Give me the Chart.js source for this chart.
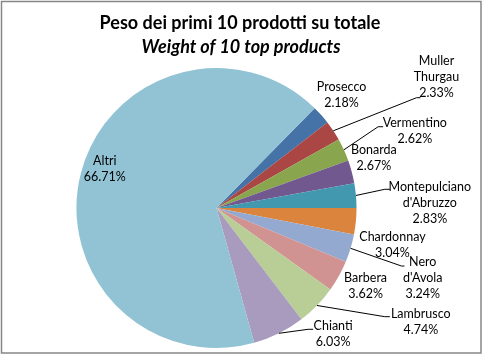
<!DOCTYPE html>
<html>
<head>
<meta charset="utf-8">
<script src="https://cdn.jsdelivr.net/npm/chart.js@4/dist/chart.umd.min.js"></script>
<style>
  html, body { margin: 0; padding: 0; background: #ffffff; }
  #wrap { width: 483px; height: 356px; }
</style>
</head>
<body>
<div id="wrap"><canvas id="c" width="483" height="356"></canvas></div>
<script>
// ---- data ----
const titleLines = ['Peso dei primi 10 prodotti su totale', 'Weight of 10 top products'];
const categories = ['Prosecco', 'Muller Thurgau', 'Vermentino', 'Bonarda', "Montepulciano d'Abruzzo",
                    'Chardonnay', "Nero d'Avola", 'Barbera', 'Lambrusco', 'Chianti', 'Altri'];
const values = [2.18, 2.33, 2.62, 2.67, 2.83, 3.04, 3.24, 3.62, 4.74, 6.03, 66.71];

// ---- styles / layout ----
const colors = ['#4572A7', '#AA4643', '#89A54E', '#71588F', '#4198AF', '#DB843D',
                '#93A9CF', '#D19392', '#B9CD96', '#A99BBD', '#92C3D5'];
// label centre offsets from each slice's outer mid point
const labelOffsets = [[20.3,-20.4],[103.2,-53.6],[71,-18.8],[22.1,-13.7],[73.9,7.2],
                      [36.6,23.4],[72.2,30],[26.7,10.2],[103.8,16.7],[54.2,0.9],[23.9,-4.3]];
// leader-line elbow offsets from label centre (null = no leader), and horizontal tail length
const leaderElbows = [null,[-20,20.5],[-36.7,-4.3],null,[-45,-13.4],
                      null,[-21.3,-12.3],null,[-36,-5.5],[-25,-4.9],null];
const leaderTail = [0,4,5,0,5,0,3,0,5,5,0];
const labelFont = '12.5px Lato';
const lineH = 16;

const labelsPlugin = {
  id: 'sliceLabels',
  beforeDraw(chart) {
    const ctx = chart.ctx;
    ctx.save();
    ctx.fillStyle = '#ffffff';
    ctx.fillRect(0, 0, chart.width, chart.height);
    ctx.restore();
  },
  afterDraw(chart) {
    const ctx = chart.ctx;
    ctx.save();
    // border
    ctx.strokeStyle = '#878787';
    ctx.lineWidth = 1.5;
    ctx.strokeRect(1.5, 1.5, 479.5, 351.5);
    // title
    ctx.fillStyle = '#000000';
    ctx.textAlign = 'center';
    ctx.textBaseline = 'middle';
    ctx.font = 'bold 18px Lato';
    ctx.fillText(titleLines[0], 240, 23);
    ctx.font = 'italic bold 18px Lato';
    ctx.fillText(titleLines[1], 241, 47);

    const meta = chart.getDatasetMeta(0);
    ctx.font = labelFont;
    meta.data.forEach((arc, i) => {
      const mid = (arc.startAngle + arc.endAngle) / 2;
      const ex = arc.x + arc.outerRadius * Math.cos(mid);
      const ey = arc.y + arc.outerRadius * Math.sin(mid);
      const lx = ex + labelOffsets[i][0];
      const ly = ey + labelOffsets[i][1];
      const lines = categories[i].split(' ').concat([values[i].toFixed(2) + '%']);
      if (leaderElbows[i]) {
        const bx = lx + leaderElbows[i][0];
        const by = ly + leaderElbows[i][1];
        ctx.strokeStyle = '#000000';
        ctx.lineWidth = 1;
        ctx.beginPath();
        ctx.moveTo(ex, ey);
        ctx.lineTo(bx, by);
        ctx.lineTo(bx + leaderTail[i], by);
        ctx.stroke();
      }
      ctx.fillStyle = '#000000';
      const top = ly - (lines.length - 1) * lineH / 2;
      lines.forEach((t, k) => ctx.fillText(t, lx, top + k * lineH));
    });
    ctx.restore();
  }
};

new Chart(document.getElementById('c'), {
  type: 'pie',
  data: {
    labels: categories,
    datasets: [{
      data: values,
      backgroundColor: colors,
      borderWidth: 0,
      hoverOffset: 0,
      offset: 0
    }]
  },
  options: {
    responsive: false,
    animation: false,
    events: [],
    rotation: 44.5,
    layout: { padding: { left: 76.5, right: 126.5, top: 68, bottom: 8 } },
    plugins: {
      legend: { display: false },
      tooltip: { enabled: false },
      title: { display: false }
    }
  },
  plugins: [labelsPlugin]
});
</script>
</body>
</html>
